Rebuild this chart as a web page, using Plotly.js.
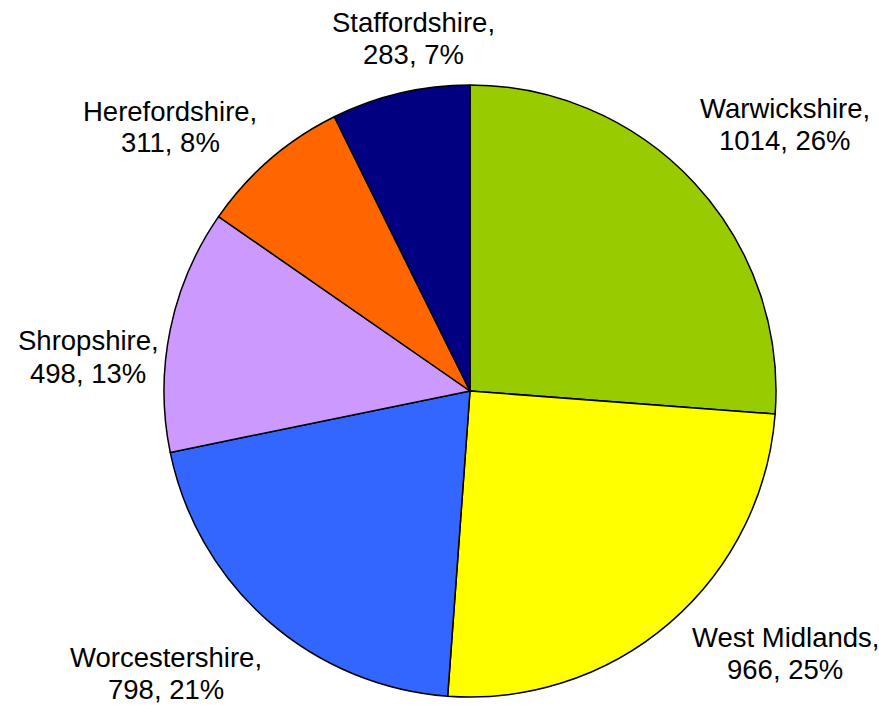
<!DOCTYPE html>
<html>
<head>
<meta charset="utf-8">
<script src="https://cdn.plot.ly/plotly-3.0.1.min.js"></script>
<style>html,body{margin:0;padding:0;background:#fff;}#chart{width:879px;height:705px;}</style>
</head>
<body>
<div id="chart"></div>
<script>
// Data
var regions = ["Warwickshire", "West Midlands", "Worcestershire", "Shropshire", "Herefordshire", "Staffordshire"];
var counts = [1014, 966, 798, 498, 311, 283];
var colors = ["#99CC00", "#FFFF00", "#3366FF", "#CC99FF", "#FF6600", "#000080"];

// Layout: label block centres in pixels (x, y)
var labelPos = [[785, 124], [785, 653], [166, 673], [88, 357], [170, 127], [413, 38]];

var W = 879, H = 705;
var cx = 470, cy = 391, R = 306;

var total = counts.reduce(function (a, b) { return a + b; }, 0);
var annotations = [];
var lineGap = 32;
regions.forEach(function (name, i) {
  var pct = Math.round(counts[i] / total * 100);
  var lines = [name + ",", counts[i] + ", " + pct + "%"];
  lines.forEach(function (t, j) {
    var py = labelPos[i][1] + (j === 0 ? -lineGap / 2 : lineGap / 2);
    annotations.push({
      text: t, showarrow: false, xref: "paper", yref: "paper",
      x: labelPos[i][0] / W, y: 1 - py / H, xanchor: "center", yanchor: "middle",
      font: {family: "Liberation Sans, Arial, sans-serif", size: 27.5, color: "#000"}
    });
  });
});

var trace = {
  type: "pie",
  labels: regions,
  values: counts,
  sort: false,
  direction: "clockwise",
  rotation: 0,
  textinfo: "none",
  hoverinfo: "label+value+percent",
  marker: {colors: colors, line: {color: "#000", width: 1.5}},
  domain: {x: [(cx - R) / W, (cx + R) / W], y: [1 - (cy + R) / H, 1 - (cy - R) / H]},
  showlegend: false
};

var layout = {
  width: W, height: H,
  margin: {l: 0, r: 0, t: 0, b: 0},
  paper_bgcolor: "#fff",
  showlegend: false,
  annotations: annotations
};

Plotly.newPlot("chart", [trace], layout, {displayModeBar: false, staticPlot: true});
</script>
</body>
</html>
